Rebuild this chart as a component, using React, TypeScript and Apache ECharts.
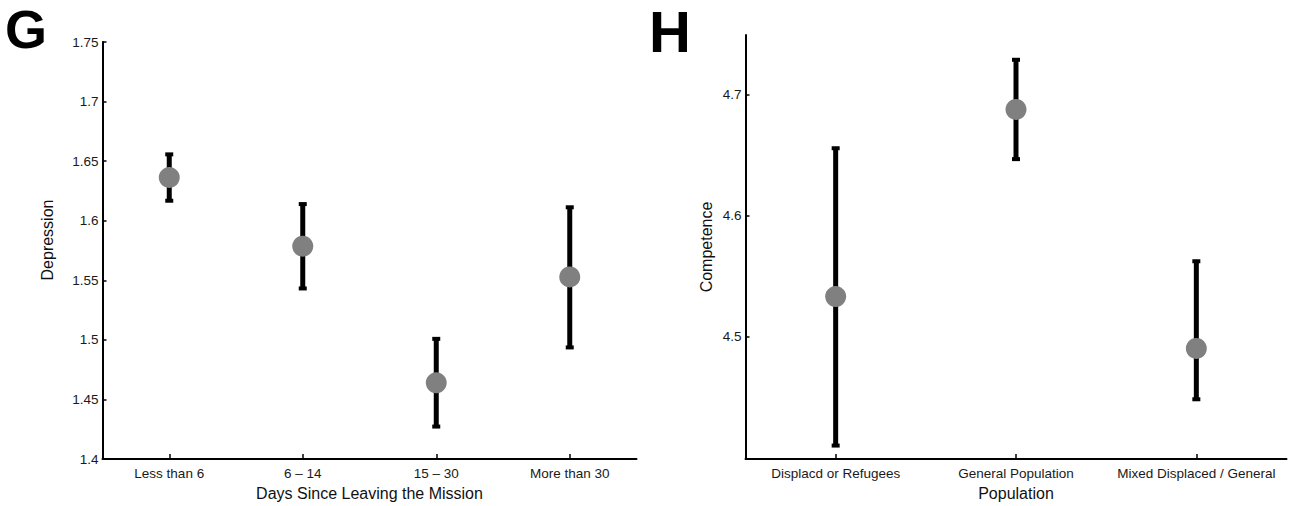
import React, { useEffect, useRef } from "react";
import * as echarts from "echarts";

const depCategories = ["Less than 6", "6 – 14", "15 – 30", "More than 30"];
const depMeans = [1.6363, 1.5787, 1.464, 1.5529];
const depUpper = [1.6557, 1.614, 1.5009, 1.6113];
const depLower = [1.6168, 1.5432, 1.4273, 1.4937];

const popCategories = ["Displacd or Refugees", "General Population", "Mixed Displaced / General"];
const compMeans = [4.5329, 4.6877, 4.49];
const compUpper = [4.6556, 4.7288, 4.5621];
const compLower = [4.4096, 4.6466, 4.4479];
const compTicks = [4.5, 4.6, 4.7];

const FONT = "Liberation Sans";

function errorRender(params: any, api: any) {
  const x = api.value(0);
  const lo = api.coord([x, api.value(1)]);
  const hi = api.coord([x, api.value(2)]);
  const st = { fill: "#000" };
  return {
    type: "group",
    children: [
      { type: "line", shape: { x1: hi[0], y1: hi[1], x2: lo[0], y2: lo[1] }, style: { stroke: "#000", lineWidth: 5 } },
      { type: "rect", shape: { x: hi[0] - 4, y: hi[1] - 2, width: 8, height: 4 }, style: st },
      { type: "rect", shape: { x: lo[0] - 4, y: lo[1] - 2, width: 8, height: 4 }, style: st },
    ],
  };
}

export default function App() {
  const ref = useRef<HTMLDivElement>(null);
  useEffect(() => {
    if (!ref.current) return;
    const chart = echarts.init(ref.current, null, { renderer: "svg" });
    const axisLine = { show: true, lineStyle: { color: "#000", width: 2 } };
    const label = { color: "#1a1a1a", fontFamily: FONT, fontSize: 13.5 };
    const nameStyle = { color: "#111", fontFamily: FONT, fontSize: 16 };
    chart.setOption({
      animation: false,
      backgroundColor: "#fff",
      grid: [
        { left: 102.5, top: 42, width: 534, height: 420 },
        { left: 745.5, top: 35, width: 541, height: 427 },
      ],
      xAxis: [
        {
          type: "category",
          gridIndex: 0,
          data: depCategories,
          boundaryGap: true,
          axisLine,
          axisTick: { show: true, inside: true, alignWithLabel: true, length: 5, lineStyle: { color: "#000", width: 1.5 } },
          axisLabel: { ...label, margin: 7, interval: 0 },
          splitLine: { show: false },
          name: "Days Since Leaving the Mission",
          nameLocation: "middle",
          nameGap: 25,
          nameTextStyle: nameStyle,
        },
        {
          type: "category",
          gridIndex: 1,
          data: popCategories,
          boundaryGap: true,
          axisLine,
          axisTick: { show: true, inside: true, alignWithLabel: true, interval: 0, length: 5, lineStyle: { color: "#000", width: 1.5 } },
          axisLabel: { ...label, margin: 7, interval: 0 },
          splitLine: { show: false },
          name: "Population",
          nameLocation: "middle",
          nameGap: 24,
          nameTextStyle: nameStyle,
        },
      ],
      yAxis: [
        {
          type: "value",
          gridIndex: 0,
          min: 1.4,
          max: 1.75,
          interval: 0.05,
          axisLine,
          axisTick: { show: true, inside: true, length: 4, lineStyle: { color: "#000", width: 1.5 } },
          axisLabel: { ...label, margin: 4 },
          splitLine: { show: false },
        },
        {
          type: "value",
          gridIndex: 1,
          min: 4.3984,
          max: 4.7493,
          axisLine,
          axisTick: { show: true, inside: true, length: 4, customValues: compTicks, lineStyle: { color: "#000", width: 1.5 } },
          axisLabel: { ...label, margin: 4, customValues: compTicks },
          splitLine: { show: false },
        },
      ],
      graphic: [
        { type: "text", x: 5, y: 28.5, style: { text: "G", font: `bold 54px ${FONT}`, fill: "#000", textVerticalAlign: "middle", textAlign: "left" } },
        { type: "text", x: 649, y: 31, style: { text: "H", font: `bold 58px ${FONT}`, fill: "#000", textVerticalAlign: "middle", textAlign: "left" } },
        { type: "text", x: 47, y: 240, rotation: Math.PI / 2, style: { text: "Depression", font: `16px ${FONT}`, fill: "#111", textAlign: "center", textVerticalAlign: "middle" } },
        { type: "text", x: 706.7, y: 247, rotation: Math.PI / 2, style: { text: "Competence", font: `16px ${FONT}`, fill: "#111", textAlign: "center", textVerticalAlign: "middle" } },
      ],
      series: [
        {
          type: "custom",
          xAxisIndex: 0,
          yAxisIndex: 0,
          renderItem: errorRender,
          data: depCategories.map((_, i) => [i, depLower[i], depUpper[i]]),
          z: 2,
        },
        {
          type: "scatter",
          xAxisIndex: 0,
          yAxisIndex: 0,
          symbolSize: 21,
          itemStyle: { color: "#808080", opacity: 1 },
          data: depCategories.map((_, i) => [i, depMeans[i]]),
          z: 3,
        },
        {
          type: "custom",
          xAxisIndex: 1,
          yAxisIndex: 1,
          renderItem: errorRender,
          data: popCategories.map((_, i) => [i, compLower[i], compUpper[i]]),
          z: 2,
        },
        {
          type: "scatter",
          xAxisIndex: 1,
          yAxisIndex: 1,
          symbolSize: 21,
          itemStyle: { color: "#808080", opacity: 1 },
          data: popCategories.map((_, i) => [i, compMeans[i]]),
          z: 3,
        },
      ],
    });
    return () => chart.dispose();
  }, []);
  return (
    <div
      ref={ref}
      style={{ position: "absolute", left: 0, top: 0, width: 1291, height: 506, background: "#fff" }}
    />
  );
}
